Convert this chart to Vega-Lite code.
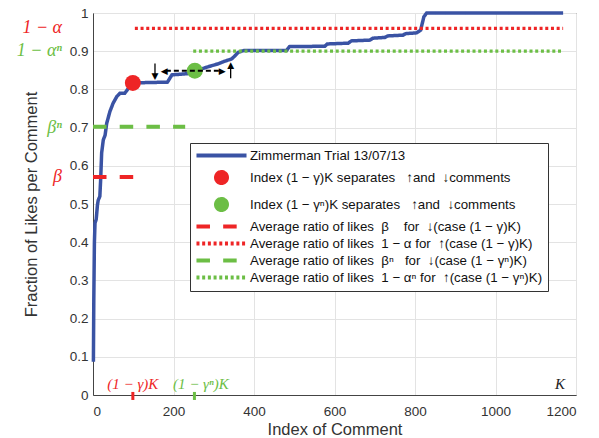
{
  "$schema": "https://vega.github.io/schema/vega-lite/v6.json",
  "width": 483,
  "height": 382,
  "autosize": {"type": "none"},
  "padding": {"left": 93, "top": 13, "right": 23, "bottom": 43},
  "background": "white",
  "config": {
    "view": {"stroke": "#444", "strokeWidth": 1},
    "font": "Liberation Sans",
    "axis": {
      "labelFont": "Liberation Sans", "titleFont": "Liberation Sans",
      "labelColor": "#333", "titleColor": "#333",
      "domainColor": "#444", "tickColor": "#444", "gridColor": "#e3e3e3",
      "labelFontSize": 13.5, "titleFontSize": 16.5, "titleFontWeight": "normal"
    }
  },
  "datasets": {
    "curve": [
      {"x": 1, "y": 0.087}, {"x": 2, "y": 0.25}, {"x": 3.5, "y": 0.4}, {"x": 5, "y": 0.45},
      {"x": 8, "y": 0.46}, {"x": 11, "y": 0.497}, {"x": 13, "y": 0.51}, {"x": 17, "y": 0.52},
      {"x": 19, "y": 0.563}, {"x": 21.5, "y": 0.634}, {"x": 25.6, "y": 0.668}, {"x": 30, "y": 0.68},
      {"x": 34, "y": 0.711}, {"x": 42, "y": 0.742}, {"x": 50, "y": 0.764}, {"x": 59, "y": 0.781},
      {"x": 67, "y": 0.79}, {"x": 79, "y": 0.79}, {"x": 88, "y": 0.803}, {"x": 96, "y": 0.817},
      {"x": 185, "y": 0.819}, {"x": 196, "y": 0.838}, {"x": 245, "y": 0.842}, {"x": 260, "y": 0.85},
      {"x": 282, "y": 0.858}, {"x": 311, "y": 0.867}, {"x": 328, "y": 0.874}, {"x": 345, "y": 0.88},
      {"x": 361, "y": 0.897}, {"x": 375, "y": 0.902}, {"x": 481, "y": 0.902}, {"x": 488, "y": 0.912},
      {"x": 576, "y": 0.913}, {"x": 582, "y": 0.919}, {"x": 634, "y": 0.921}, {"x": 642, "y": 0.927},
      {"x": 688, "y": 0.929}, {"x": 695, "y": 0.934}, {"x": 725, "y": 0.936}, {"x": 732, "y": 0.94},
      {"x": 770, "y": 0.942}, {"x": 777, "y": 0.946}, {"x": 804, "y": 0.948}, {"x": 814, "y": 0.955},
      {"x": 822, "y": 0.99}, {"x": 829, "y": 1.0}, {"x": 1168, "y": 1.0}
    ],
    "dashed": [
      {"series": "Average ratio of likes \u00a0β \u00a0 \u00a0for \u00a0↓(case (1 − γ)K)", "x": 0, "x2": 100, "y": 0.571},
      {"series": "Average ratio of likes \u00a0βⁿ \u00a0 for \u00a0↓(case (1 − γⁿ)K)", "x": 0, "x2": 229, "y": 0.702}
    ],
    "dotted": [
      {"series": "Average ratio of likes \u00a01 − α for \u00a0↑(case (1 − γ)K)", "x": 104, "x2": 1168, "y": 0.96},
      {"series": "Average ratio of likes \u00a01 − αⁿ for \u00a0↑(case (1 − γⁿ)K)", "x": 249, "x2": 1168, "y": 0.9}
    ],
    "dots": [
      {"series": "Index (1 − γ)K separates \u00a0 ↑and \u00a0↓comments", "x": 99, "y": 0.817},
      {"series": "Index (1 − γⁿ)K separates \u00a0 ↑and \u00a0↓comments", "x": 253, "y": 0.849}
    ],
    "xticks": [
      {"series": "Index (1 − γ)K separates \u00a0 ↑and \u00a0↓comments", "x": 99, "y": -0.013, "y2": 0.008},
      {"series": "Index (1 − γⁿ)K separates \u00a0 ↑and \u00a0↓comments", "x": 252, "y": -0.013, "y2": 0.008}
    ],
    "varrows": [
      {"x": 154, "y": 0.868, "y2": 0.84},
      {"x": 342, "y": 0.829, "y2": 0.86}
    ],
    "harrows": [
      {"x": 181, "x2": 317, "y": 0.849}
    ],
    "heads": [
      {"glyph": "▼", "x": 154, "y": 0.836},
      {"glyph": "▲", "x": 342, "y": 0.865},
      {"glyph": "◀", "x": 177, "y": 0.849},
      {"glyph": "▶", "x": 321, "y": 0.849}
    ],
    "leftlabels": [
      {"label": "1 − α", "x": 0, "y": 0.96, "series": "Average ratio of likes \u00a01 − α for \u00a0↑(case (1 − γ)K)"},
      {"label": "1 − αⁿ", "x": 0, "y": 0.9, "series": "Average ratio of likes \u00a01 − αⁿ for \u00a0↑(case (1 − γⁿ)K)"},
      {"label": "βⁿ", "x": 0, "y": 0.7, "series": "Average ratio of likes \u00a0βⁿ \u00a0 for \u00a0↓(case (1 − γⁿ)K)"},
      {"label": "β", "x": 0, "y": 0.57, "series": "Average ratio of likes \u00a0β \u00a0 \u00a0for \u00a0↓(case (1 − γ)K)"}
    ],
    "bottomlabels": [
      {"label": "(1 − γ)K", "x": 99, "y": 0.03, "series": "Index (1 − γ)K separates \u00a0 ↑and \u00a0↓comments"},
      {"label": "(1 − γⁿ)K", "x": 268, "y": 0.03, "series": "Index (1 − γⁿ)K separates \u00a0 ↑and \u00a0↓comments"}
    ],
    "klabel": [
      {"label": "K", "x": 1160, "y": 0.03}
    ]
  },
  "encoding": {
    "x": {
      "field": "x", "type": "quantitative",
      "scale": {"domain": [0, 1200], "nice": false, "zero": false},
      "axis": {
        "orient": "bottom", "values": [0, 200, 400, 600, 800, 1000, 1200], "format": "d",
        "grid": true, "ticks": false, "labelPadding": 9, "title": "Index of Comment", "titlePadding": 4
      }
    },
    "y": {
      "field": "y", "type": "quantitative",
      "scale": {"domain": [0, 1], "nice": false, "zero": false},
      "axis": {
        "orient": "left", "values": [0, 0.1, 0.2, 0.3, 0.4, 0.5, 0.6, 0.7, 0.8, 0.9, 1],
        "format": "~g", "grid": true, "ticks": false, "labelPadding": 5,
        "title": "Fraction of Likes per Comment", "titlePadding": 30
      }
    }
  },
  "layer": [
    {
      "data": {"name": "curve"},
      "mark": {"type": "line", "strokeWidth": 3.5, "clip": false},
      "encoding": {
        "color": {
          "datum": "Zimmerman Trial 13/07/13", "type": "nominal", "title": null,
          "scale": {
            "domain": [
              "Zimmerman Trial 13/07/13",
              "Index (1 − γ)K separates \u00a0 ↑and \u00a0↓comments",
              "Index (1 − γⁿ)K separates \u00a0 ↑and \u00a0↓comments",
              "Average ratio of likes \u00a0β \u00a0 \u00a0for \u00a0↓(case (1 − γ)K)",
              "Average ratio of likes \u00a01 − α for \u00a0↑(case (1 − γ)K)",
              "Average ratio of likes \u00a0βⁿ \u00a0 for \u00a0↓(case (1 − γⁿ)K)",
              "Average ratio of likes \u00a01 − αⁿ for \u00a0↑(case (1 − γⁿ)K)"
            ],
            "range": ["#3A53A4", "#EE2526", "#6CBE45", "#EE2526", "#EE2526", "#6CBE45", "#6CBE45"]
          },
          "legend": {
            "title": null, "orient": "none", "legendX": 97, "legendY": 130,
            "padding": 5, "strokeColor": "#333", "fillColor": "white",
            "symbolSize": 121, "symbolStrokeWidth": 4, "symbolOffset": 19, "labelOffset": 21, "rowPadding": 0,
            "labelFont": "Liberation Sans", "labelFontSize": 13.3, "labelColor": "#111", "labelLimit": 0
          }
        },
        "strokeDash": {
          "datum": "Zimmerman Trial 13/07/13", "type": "nominal", "title": null,
          "scale": {
            "domain": [
              "Zimmerman Trial 13/07/13",
              "Index (1 − γ)K separates \u00a0 ↑and \u00a0↓comments",
              "Index (1 − γⁿ)K separates \u00a0 ↑and \u00a0↓comments",
              "Average ratio of likes \u00a0β \u00a0 \u00a0for \u00a0↓(case (1 − γ)K)",
              "Average ratio of likes \u00a01 − α for \u00a0↑(case (1 − γ)K)",
              "Average ratio of likes \u00a0βⁿ \u00a0 for \u00a0↓(case (1 − γⁿ)K)",
              "Average ratio of likes \u00a01 − αⁿ for \u00a0↑(case (1 − γⁿ)K)"
            ],
            "range": [[1, 0], [1, 0], [1, 0], [13.5, 13.2], [3, 2.7], [13.5, 13.2], [3, 2.7]]
          }
        }
      }
    },
    {
      "data": {"name": "dashed"},
      "mark": {"type": "rule", "strokeWidth": 4, "strokeCap": "butt"},
      "encoding": {
        "x2": {"field": "x2"},
        "color": {"field": "series", "type": "nominal", "title": null},
        "strokeDash": {"field": "series", "type": "nominal", "title": null}
      }
    },
    {
      "data": {"name": "dotted"},
      "mark": {"type": "rule", "strokeWidth": 3.3, "strokeCap": "butt"},
      "encoding": {
        "x2": {"field": "x2"},
        "color": {"field": "series", "type": "nominal", "title": null},
        "strokeDash": {"field": "series", "type": "nominal", "title": null}
      }
    },
    {
      "data": {"name": "xticks"},
      "mark": {"type": "rule", "strokeWidth": 3, "clip": false},
      "encoding": {
        "y2": {"field": "y2"},
        "color": {"field": "series", "type": "nominal", "title": null}
      }
    },
    {
      "data": {"name": "dots"},
      "mark": {"type": "point", "filled": true, "size": 256, "opacity": 1},
      "encoding": {
        "color": {"field": "series", "type": "nominal", "title": null},
        "shape": {
          "field": "series", "type": "nominal", "title": null,
          "scale": {
            "domain": [
              "Zimmerman Trial 13/07/13",
              "Index (1 − γ)K separates \u00a0 ↑and \u00a0↓comments",
              "Index (1 − γⁿ)K separates \u00a0 ↑and \u00a0↓comments",
              "Average ratio of likes \u00a0β \u00a0 \u00a0for \u00a0↓(case (1 − γ)K)",
              "Average ratio of likes \u00a01 − α for \u00a0↑(case (1 − γ)K)",
              "Average ratio of likes \u00a0βⁿ \u00a0 for \u00a0↓(case (1 − γⁿ)K)",
              "Average ratio of likes \u00a01 − αⁿ for \u00a0↑(case (1 − γⁿ)K)"
            ],
            "range": ["M-4.55,0L4.55,0", "circle", "circle", "M-4.55,0L4.55,0", "M-4.55,0L4.55,0", "M-4.55,0L4.55,0", "M-4.55,0L4.55,0"]
          }
        }
      }
    },
    {
      "data": {"name": "varrows"},
      "mark": {"type": "rule", "strokeWidth": 1.3, "color": "black"},
      "encoding": {
        "y2": {"field": "y2"}
      }
    },
    {
      "data": {"name": "harrows"},
      "mark": {"type": "rule", "strokeWidth": 2, "color": "black", "strokeDash": [5, 3]},
      "encoding": {
        "x2": {"field": "x2"}
      }
    },
    {
      "data": {"name": "heads"},
      "mark": {"type": "text", "font": "DejaVu Sans", "fontSize": 9, "align": "center", "baseline": "middle", "color": "black"},
      "encoding": {
        "text": {"field": "glyph"}
      }
    },
    {
      "data": {"name": "leftlabels"},
      "mark": {"type": "text", "font": "Liberation Serif", "fontStyle": "italic", "fontSize": 18, "align": "right", "baseline": "middle", "dx": -31},
      "encoding": {
        "text": {"field": "label"},
        "color": {"field": "series", "type": "nominal", "title": null}
      }
    },
    {
      "data": {"name": "bottomlabels"},
      "mark": {"type": "text", "font": "Liberation Serif", "fontStyle": "italic", "fontSize": 15, "align": "center", "baseline": "middle"},
      "encoding": {
        "text": {"field": "label"},
        "color": {"field": "series", "type": "nominal", "title": null}
      }
    },
    {
      "data": {"name": "klabel"},
      "mark": {"type": "text", "font": "Liberation Serif", "fontStyle": "italic", "fontSize": 15, "align": "center", "baseline": "middle", "color": "#222"},
      "encoding": {
        "text": {"field": "label"}
      }
    }
  ]
}
